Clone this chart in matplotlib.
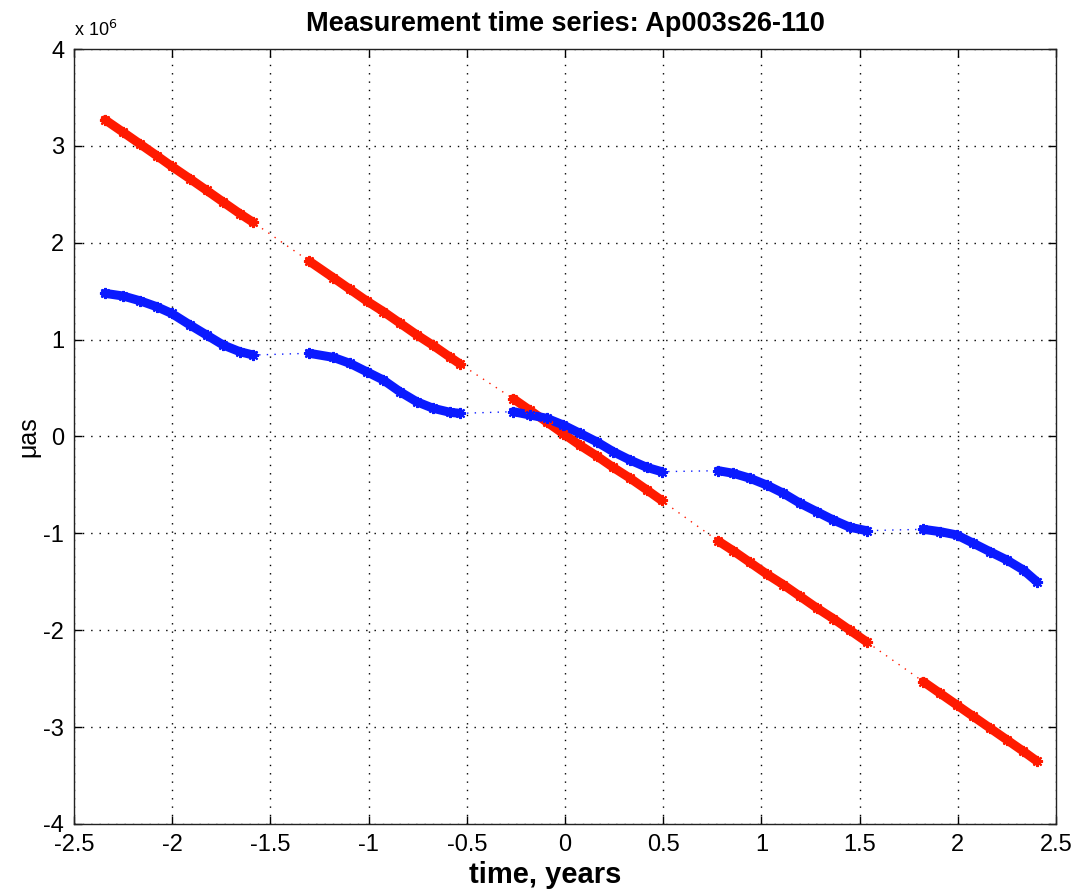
import matplotlib
matplotlib.use("Agg")
import matplotlib.pyplot as plt

plt.rcParams['font.family'] = ['Liberation Sans', 'DejaVu Sans']

# Data in units of 1e6 micro-arcseconds, split into observation segments
seg_x = [
    [-2.342, -2.249, -2.164, -2.079, -2.003, -1.909, -1.824, -1.740, -1.655, -1.587],
    [-1.302, -1.180, -1.095, -1.010, -0.925, -0.840, -0.755, -0.671, -0.586, -0.535],
    [-0.263, -0.178, -0.093, -0.009, 0.076, 0.161, 0.246, 0.331, 0.416, 0.492],
    [0.781, 0.857, 0.942, 1.027, 1.112, 1.197, 1.282, 1.366, 1.451, 1.536],
    [1.824, 1.909, 1.994, 2.079, 2.164, 2.249, 2.334, 2.402],
]
blue_y = [
    [1.478, 1.450, 1.401, 1.340, 1.271, 1.151, 1.047, 0.944, 0.875, 0.841],
    [0.859, 0.817, 0.755, 0.669, 0.583, 0.462, 0.359, 0.291, 0.250, 0.239],
    [0.256, 0.222, 0.188, 0.119, 0.033, -0.054, -0.157, -0.243, -0.318, -0.363],
    [-0.353, -0.380, -0.431, -0.501, -0.586, -0.689, -0.776, -0.862, -0.937, -0.972],
    [-0.958, -0.982, -1.016, -1.102, -1.189, -1.274, -1.378, -1.498],
]
red_y = [
    [3.27, 3.14, 3.02, 2.90, 2.79, 2.66, 2.54, 2.42, 2.30, 2.21],
    [1.81, 1.64, 1.52, 1.40, 1.29, 1.17, 1.05, 0.94, 0.82, 0.75],
    [0.39, 0.27, 0.15, 0.03, -0.09, -0.20, -0.32, -0.43, -0.55, -0.66],
    [-1.08, -1.18, -1.30, -1.42, -1.53, -1.65, -1.77, -1.88, -2.00, -2.12],
    [-2.53, -2.65, -2.77, -2.89, -3.01, -3.13, -3.25, -3.35],
]

x_ticks = [-2.5, -2, -1.5, -1, -0.5, 0, 0.5, 1, 1.5, 2, 2.5]
x_tick_labels = ['-2.5', '-2', '-1.5', '-1', '-0.5', '0', '0.5', '1', '1.5', '2', '2.5']
y_ticks = [-4, -3, -2, -1, 0, 1, 2, 3, 4]
y_tick_labels = ['-4', '-3', '-2', '-1', '0', '1', '2', '3', '4']

title = 'Measurement time series: Ap003s26-110'
xlabel = 'time, years'
ylabel = '\u03bcas'

fig = plt.figure(figsize=(10.75, 8.93), dpi=100)
ax = fig.add_axes([0.0688, 0.0773, 0.9135, 0.8678])

def draw_series(ys, color):
    allx = [v for s in seg_x for v in s]
    ally = [v for s in ys for v in s]
    ax.plot(allx, ally, color=color, lw=1.0, linestyle=(0, (1, 4.5)), zorder=2)
    for sx, sy in zip(seg_x, ys):
        ax.plot(sx, sy, color=color, lw=6.5, solid_capstyle='round', zorder=3)
        ax.plot(sx, sy, color=color, lw=0, marker=(8, 2, 0), markersize=8,
                markeredgewidth=1.5, zorder=4)

draw_series(red_y, '#ff1a00')
draw_series(blue_y, '#0a1aff')

ax.set_xlim(-2.5, 2.5)
ax.set_ylim(-4, 4)
ax.set_xticks(x_ticks)
ax.set_xticklabels(x_tick_labels)
ax.set_yticks(y_ticks)
ax.set_yticklabels(y_tick_labels)
ax.tick_params(direction='in', top=True, right=True, length=6, width=1,
               labelsize=17)
ax.tick_params(axis='x', pad=7)
ax.tick_params(axis='y', pad=7)
ax.grid(True, color='black', linestyle=(0, (1, 5)), linewidth=1.0)
for sp in ax.spines.values():
    sp.set_linewidth(1.0)
    sp.set_color('#222222')

ax.set_title(title, fontsize=19.5, fontweight='bold', pad=13)
ax.set_xlabel(xlabel, fontsize=21, fontweight='bold')
ax.xaxis.set_label_coords(0.48, -0.048)
ax.set_ylabel(ylabel, fontsize=18, labelpad=2)
ax.text(0.0, 1.012, 'x 10$^6$', transform=ax.transAxes, fontsize=13,
        ha='left', va='bottom')

fig.savefig('out.png', dpi=100)
